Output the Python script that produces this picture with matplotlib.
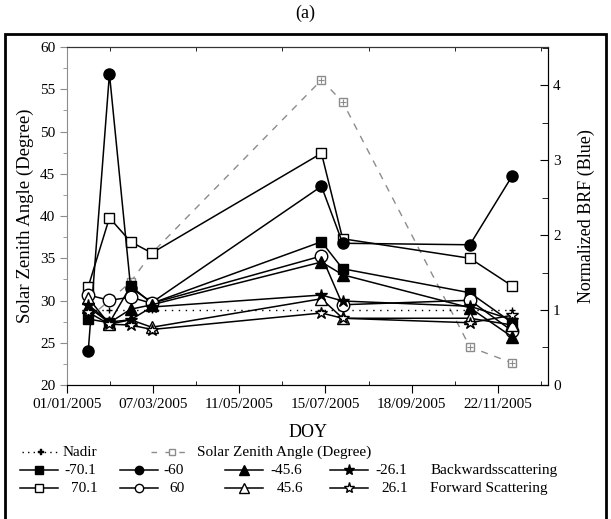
import datetime as dt
import matplotlib
matplotlib.use("Agg")
import matplotlib.pyplot as plt
import matplotlib.dates as mdates
from matplotlib.ticker import FixedLocator
from matplotlib.lines import Line2D
from matplotlib.patches import Rectangle

plt.rcParams['font.family'] = ['Liberation Serif', 'DejaVu Serif']

# acquisition dates
dates = ["2005-01-17", "2005-02-02", "2005-02-18", "2005-03-06",
         "2005-07-12", "2005-07-28", "2005-11-01", "2005-12-03"]
tick_dates = ["2005-01-01", "2005-03-07", "2005-05-11",
              "2005-07-15", "2005-09-18", "2005-11-22"]

# solar zenith angle (left axis, degree)
sza = [27.9, 30.0, 32.2, 35.6, 56.1, 53.5, 24.5, 22.6]

# normalized BRF (blue), right axis
nadir = [1.0, 1.0, 1.0, 1.0, 1.0, 1.0, 1.0, 1.0]
b70 = [0.88, 0.83, 1.32, 1.09, 1.91, 1.55, 1.23, 0.83]    # -70.1
b60 = [0.45, 4.15, 1.30, 1.10, 2.65, 1.89, 1.87, 2.79]    # -60
b45 = [1.04, 0.83, 1.01, 1.07, 1.64, 1.47, 1.03, 0.64]    # -45.6
b26 = [1.07, 0.84, 0.87, 1.04, 1.20, 1.12, 1.05, 0.87]    # -26.1
f70 = [1.31, 2.23, 1.91, 1.76, 3.09, 1.95, 1.69, 1.32]    # 70.1
f60 = [1.20, 1.13, 1.17, 1.09, 1.72, 1.07, 1.13, 0.72]    # 60
f45 = [1.16, 0.81, 0.87, 0.77, 1.15, 0.89, 0.89, 0.80]    # 45.6
f26 = [0.97, 0.81, 0.80, 0.74, 0.96, 0.89, 0.83, 0.93]    # 26.1

x = [dt.datetime.strptime(d, "%Y-%m-%d") for d in dates]
xt = [dt.datetime.strptime(d, "%Y-%m-%d") for d in tick_dates]

fig = plt.figure(figsize=(6.11, 5.19), dpi=100)
ax = fig.add_axes([0.1097, 0.2582, 0.7873, 0.6512])
ax2 = ax.twinx()

gray = '#8c8c8c'
# SZA on left axis
ax.plot(x, sza, color=gray, ls=(0, (5, 5)), lw=1.0, marker='s', ms=6,
        mfc='white', mec=gray, mew=1.0)
ax.plot(x, sza, ls='none', marker='+', ms=5, mec=gray, mew=0.8)

# BRF series on right axis
k = dict(color='black', lw=1.1, mec='black', mew=1.0)
ax2.plot(x, nadir, ls=(0, (1, 4)), color='black', lw=1.0, marker='+', ms=5)
ax2.plot(x, f70, marker='s', ms=7, mfc='white', **k)
ax2.plot(x, b60, marker='o', ms=8, mfc='black', **k)
ax2.plot(x, b70, marker='s', ms=7, mfc='black', **k)
ax2.plot(x, f60, marker='o', ms=9, mfc='white', **k)
ax2.plot(x, b45, marker='^', ms=8, mfc='black', **k)
ax2.plot(x, f45, marker='^', ms=9, mfc='white', **k)
ax2.plot(x, b26, marker='*', ms=9, mfc='black', **k)
ax2.plot(x, f26, marker='*', ms=9, mfc='white', **k)

ax.set_xlim(dt.datetime(2005, 1, 1), dt.datetime(2005, 12, 30))
ax.set_ylim(20, 60)
ax2.set_ylim(0, 4.507)

ax.xaxis.set_major_locator(FixedLocator(mdates.date2num(xt)))
mids = [xt[i] + (xt[1] - xt[0]) / 2 for i in range(len(xt))]
ax.xaxis.set_minor_locator(FixedLocator(mdates.date2num(mids)))
ax.xaxis.set_major_formatter(mdates.DateFormatter('%d/%m/%Y'))
ax.set_yticks([20, 25, 30, 35, 40, 45, 50, 55, 60])
ax.set_yticks([22.5 + 5 * i for i in range(8)], minor=True)
ax2.set_yticks([0, 1, 2, 3, 4])
ax2.set_yticks([0.5, 1.5, 2.5, 3.5, 4.5], minor=True)

ax.tick_params(axis='x', which='major', direction='out', length=6, top=False, labelsize=11)
ax.tick_params(axis='x', which='minor', direction='in', length=3, top=True)
ax.tick_params(axis='y', which='both', direction='out', colors=gray, labelcolor='black', labelsize=11)
ax.tick_params(axis='y', which='major', length=5)
ax.tick_params(axis='y', which='minor', length=3)
ax2.tick_params(axis='y', which='both', direction='in', labelsize=11)
ax2.tick_params(axis='y', which='major', length=6)
ax2.tick_params(axis='y', which='minor', length=4)
ax.spines['left'].set_color(gray)
ax2.spines['left'].set_visible(False)
for a in (ax, ax2):
    a.spines['top'].set_color('#333333')

ax.set_ylabel("Solar Zenith Angle (Degree)", fontsize=13.5, labelpad=4)
ax2.set_ylabel("Normalized BRF (Blue)", fontsize=13, labelpad=12)
ax.set_xlabel("DOY", fontsize=13, labelpad=9)

fig.text(0.5, 0.975, "(a)", ha='center', va='center', fontsize=13)
fig.add_artist(Rectangle((0.008, -0.05), 0.984, 0.985, transform=fig.transFigure,
                         fill=False, lw=2, ec='black'))


# legend drawn by hand
def entry(xp, yp, ln, label, tx, **st):
    line_st = {kk: v for kk, v in st.items() if not kk.startswith('m')}
    mk_st = {kk: v for kk, v in st.items() if kk.startswith('m')}
    fig.add_artist(Line2D([xp, xp + ln], [yp, yp], transform=fig.transFigure, **line_st))
    fig.add_artist(Line2D([xp + ln / 2], [yp], transform=fig.transFigure, ls='none', **mk_st))
    fig.text(tx, yp, label, va='center', fontsize=11)


row1, row2, row3 = 0.129, 0.094, 0.059
entry(0.036, row1, 0.062, "Nadir", 0.103, color='black', lw=1.0, ls=(0, (1, 3)),
      marker='P', ms=4, mfc='black', mec='black', mew=0.3)
entry(0.247, row1, 0.068, "Solar Zenith Angle (Degree)", 0.322, color=gray, lw=1.0,
      ls=(0, (4, 6)), marker='s', ms=5, mfc='white', mec=gray)
cols = [0.033, 0.196, 0.368, 0.540]
txt = [0.106, 0.267, 0.442, 0.614]
back = [("-70.1", 's', 6), ("-60", 'o', 6), ("-45.6", '^', 7), ("-26.1", '*', 8)]
fore = [("70.1", 's', 6), ("60", 'o', 6), ("45.6", '^', 7), ("26.1", '*', 8)]
for c, t, (lab, mk, s) in zip(cols, txt, back):
    entry(c, row2, 0.062, lab, t, color='black', lw=1.1, marker=mk, ms=s,
          mfc='black', mec='black')
for c, t, (lab, mk, s) in zip(cols, txt, fore):
    entry(c, row3, 0.062, lab, t + 0.011, color='black', lw=1.1, marker=mk, ms=s,
          mfc='white', mec='black')
fig.text(0.704, row2, "Backwardsscattering", va='center', fontsize=11)
fig.text(0.704, row3, "Forward Scattering", va='center', fontsize=11)

fig.savefig("out.png", dpi=100)
